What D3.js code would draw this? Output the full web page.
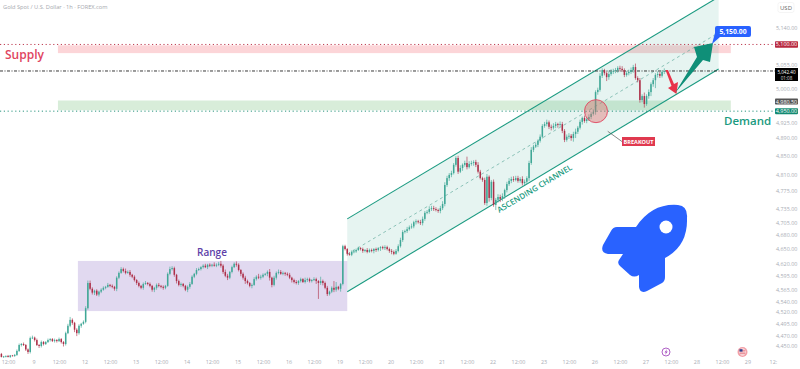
<!DOCTYPE html>
<html>
<head>
<meta charset="utf-8">
<script src="https://cdn.jsdelivr.net/npm/d3@7"></script>
<style>
	html, body { margin: 0; padding: 0; background: #fff; overflow: hidden; }
	text { font-family: "Open Sans", sans-serif; }
</style>
</head>
<body>
<div id="chart"></div>
<script>
// hourly closes, one array per stretch of the chart
const closesBefore = [4428,4429,4430,4428,4431,4430,4432,4440,4452,4454,4452,4443,4438,4466,4467,4462,4452,4450,4458,4454,
	4458,4462,4464,4460,4462,4460,4464,4458,4454,4476,4491,4503,4497,4483,4476,4491,4495,4499,4527];
const closesRange = [4579,4567,4559,4563,4555,4561,4565,4569,4571,4575,4573,4571,4567,4590,4600,4608,4604,4600,4602,4596,
	4592,4585,4579,4573,4569,4577,4579,4577,4573,4565,4569,4575,4573,4571,4569,4573,4598,4608,4610,4596,
	4583,4575,4577,4573,4565,4571,4577,4592,4598,4606,4608,4612,4615,4612,4617,4615,4617,4615,4617,4619,
	4615,4602,4594,4590,4602,4612,4619,4617,4606,4598,4590,4583,4579,4573,4575,4587,4592,4590,4592,4596,
	4598,4602,4590,4575,4590,4600,4602,4598,4600,4598,4596,4590,4585,4581,4579,4583,4587,4581,4585,4587,
	4583,4585,4587,4583,4579,4583,4579,4569,4556,4561,4569,4565,4571,4567,4577,4656];
const closesChannel = [4650,4640,4638,4644,4645,4648,4652,4650,4646,4648,4644,4648,4646,4650,4648,4652,4654,4652,4654,4650,
	4646,4644,4640,4646,4656,4669,4686,4688,4692,4696,4698,4707,4709,4707,4705,4714,4727,4729,4735,4737,
	4735,4733,4731,4737,4746,4787,4802,4809,4813,4831,4846,4816,4824,4831,4835,4826,4833,4835,4837,4831,
	4816,4802,4798,4748,4805,4759,4794,4744,4755,4761,4757,4763,4776,4789,4796,4800,4798,4802,4796,4800,
	4791,4794,4802,4835,4864,4871,4875,4884,4893,4917,4921,4925,4915,4913,4917,4921,4919,4921,4906,4886,
	4893,4895,4890,4899,4904,4913,4926,4935,4928,4932,4937,4944,4948,4993,4998,5030,5043,5036,5027,5034,
	5039,5041,5043,5048,5046,5043,5032,5036,5039,5043,5050,5025,5020,4975,4984,4966,4984,4993,5011,5020,
	5032,5034,5030,5039,5041];
const firstOpen = 4434;

// wick length above and below the body, in dollars
const wickUp = [2,1,1,2,1,1,2,3,3,2,3,2,2,3,4,2,3,2,3,2,
	2,3,2,2,3,2,3,2,2,3,4,6,3,2,3,3,2,3,4,5,
	5,3,2,3,2,3,3,2,4,2,3,2,3,3,4,3,5,3,4,2,
	3,2,3,2,3,4,2,3,2,2,3,4,2,3,2,3,5,4,3,2,
	3,3,2,2,3,4,3,2,4,3,2,3,4,2,3,2,5,3,4,6,
	3,5,4,2,3,3,5,3,2,3,4,3,2,3,4,3,6,4,3,2,
	3,6,2,4,3,5,4,3,2,3,4,2,3,4,2,3,2,5,3,3,
	2,4,3,2,9,3,3,4,2,3,14,10,2,2,3,3,2,3,3,4,
	3,3,2,3,2,4,3,3,2,3,2,2,3,4,3,3,4,3,4,4,
	5,4,3,5,4,6,3,4,3,5,5,4,4,6,5,5,4,3,5,6,
	6,5,4,5,4,4,5,6,3,5,14,6,5,4,5,6,4,3,5,6,
	3,4,5,4,6,5,6,3,5,6,5,6,5,5,4,6,5,4,5,6,
	4,5,3,5,4,5,6,4,5,6,5,3,6,5,4,5,6,4,5,7,
	4,5,3,5,4,6,5,6,4,5,6,4,3,4,8,6,5,5,4,5,
	6,4,5,5,6,5,8,4,5,4,8,4,6,4,5,4,6,5,4,6];
const wickDown = [1,2,2,1,2,1,2,2,2,3,2,3,4,3,2,3,2,4,3,3,
	2,2,3,2,3,3,2,3,5,3,2,3,4,5,6,3,4,2,3,3,
	3,4,5,3,4,3,2,3,2,3,3,4,5,3,2,3,3,2,4,3,
	3,4,3,3,4,2,3,3,4,5,4,3,3,4,3,2,3,3,4,5,
	3,4,3,3,5,4,2,3,3,2,3,3,2,4,3,3,2,3,3,4,
	4,3,5,3,3,2,4,3,5,4,6,3,3,5,2,3,3,4,3,2,
	5,6,5,3,4,3,2,3,4,3,3,5,3,3,4,3,2,3,4,3,
	3,2,6,33,4,5,3,4,3,3,5,4,3,6,3,3,4,2,3,3,
	3,2,3,4,3,3,2,3,5,4,3,6,3,4,3,4,5,3,2,3,
	3,4,3,4,3,3,4,5,3,4,5,4,3,4,4,4,3,4,5,4,
	5,4,6,5,3,4,5,3,6,4,5,3,4,6,5,4,3,4,4,6,
	8,5,4,11,6,7,5,6,5,4,5,4,3,4,4,5,4,5,6,4,
	5,3,5,4,4,4,5,5,6,4,5,6,4,5,5,4,5,6,8,9,
	5,4,6,4,5,4,5,4,6,6,4,5,5,9,6,4,5,5,6,6,
	4,5,4,5,5,6,4,5,6,5,8,4,6,9,6,18,6,5,4,5];

const priceTicks = [5140,5055,5000,4925,4890,4850,4810,4775,4735,4705,4680,4650,4620,4595,4565,4540,4520,4495,4470,4450];
const timeBars = [3,14.5,26,37.5,49,60.5,72,83.5,95,106.5,118,129.5,141,152.5,164,175.5,187,198.5,210,221.5,233,244.5,256,267.5,279,290.5,302,313.5,325,336.5,348];
const timeLabels = ["12:00","9","12:00","12","12:00","13","12:00","14","12:00","15","12:00","16","12:00","19","12:00","20","12:00","21","12:00","22","12:00","23","12:00","26","12:00","27","12:00","28","12:00","29","12:"];

const supplyPrice = 5102, demandPrice = 4950, lastPrice = 5041, prevClose = 4980.5, targetPrice = 5150;

const closes = closesBefore.concat(closesRange, closesChannel);
const candles = closes.map((c, i) => {
	const o = i ? closes[i - 1] : firstOpen;
	return { i, o, c, h: Math.max(o, c) + wickUp[i], l: Math.min(o, c) - wickDown[i] };
});

const width = 800, height = 369;
const x = d3.scaleLinear().domain([0, 300]).range([1.4, 666.5]);
const y = d3.scaleLog().domain([4450, 5000]).range([346, 89]);

const teal = "#1a9a80", red = "#e0455f", blue = "#2962ff", axisGrey = "#a9adb5";

const svg = d3.select("#chart").append("svg")
	.attr("width", width).attr("height", height)
	.style("display", "block").style("background", "#fff");

// bands behind everything
function band(x0, x1, p0, p1, fill) {
	return svg.append("rect")
		.attr("x", x(x0)).attr("width", x(x1) - x(x0))
		.attr("y", y(p0)).attr("height", y(p1) - y(p0))
		.attr("fill", fill);
}
band(25.5, 329, 5100, 5082, "#fcd5d8");
band(25.5, 329, 4974, 4952, "#d8edd9");
band(34.5, 156, 4625, 4521, "#e1d9f0");

// channel
const chLeft = 156, chRight = 323.5;
const chUpper = [4714, 5213], chMid = [4639, 5129], chLower = [4561, 5045.5];
svg.append("path")
	.attr("d", d3.line()([[x(chLeft), y(chUpper[0])], [x(chRight), y(chUpper[1])], [x(chRight), y(chLower[1])], [x(chLeft), y(chLower[0])]]))
	.attr("fill", teal).attr("fill-opacity", 0.11);
[chUpper, chLower].forEach(p => {
	svg.append("line")
		.attr("x1", x(chLeft)).attr("y1", y(p[0]))
		.attr("x2", x(chRight)).attr("y2", y(p[1]))
		.attr("stroke", teal).attr("stroke-width", 1.1);
});
svg.append("line")
	.attr("x1", x(chLeft)).attr("y1", y(chMid[0]))
	.attr("x2", x(chRight)).attr("y2", y(chMid[1]))
	.attr("stroke", "#4d9f90").attr("stroke-width", 0.6).attr("stroke-dasharray", "3 3");

// horizontal levels
const levels = [
	{ p: supplyPrice, color: "#b8283f", dash: "1.2 2.6" },
	{ p: lastPrice, color: "#222", dash: "3 1.5 1 1.5" },
	{ p: demandPrice, color: "#138a72", dash: "1.2 2.6" }
];
svg.selectAll(".level").data(levels).enter().append("line")
	.attr("class", "level")
	.attr("x1", 0).attr("x2", 775)
	.attr("y1", d => y(d.p)).attr("y2", d => y(d.p))
	.attr("stroke", d => d.color).attr("stroke-width", 0.9)
	.attr("stroke-dasharray", d => d.dash);

// candles
const candleGroup = svg.append("g");
candleGroup.selectAll(".wick").data(candles).enter().append("line")
	.attr("class", "wick")
	.attr("x1", d => x(d.i)).attr("x2", d => x(d.i))
	.attr("y1", d => y(d.h)).attr("y2", d => y(d.l))
	.attr("stroke", d => d.c >= d.o ? "#4fae9d" : "#b5445a").attr("stroke-width", 0.7);
candleGroup.selectAll(".body").data(candles).enter().append("rect")
	.attr("class", "body")
	.attr("x", d => x(d.i) - 0.75).attr("width", 1.5)
	.attr("y", d => y(Math.max(d.o, d.c)))
	.attr("height", d => Math.max(0.8, y(Math.min(d.o, d.c)) - y(Math.max(d.o, d.c))))
	.attr("fill", d => d.c >= d.o ? "#3fa796" : "#ad3049");

// breakout marker
svg.append("circle")
	.attr("cx", x(268.2)).attr("cy", y(4950)).attr("r", 11.5)
	.attr("fill", "#e06a6a").attr("fill-opacity", 0.4)
	.attr("stroke", red).attr("stroke-width", 0.9);
svg.append("line")
	.attr("x1", x(273.5)).attr("y1", y(4905))
	.attr("x2", x(280)).attr("y2", y(4882))
	.attr("stroke", "#555").attr("stroke-width", 0.7);
svg.append("rect").attr("x", 622).attr("y", 137).attr("width", 33).attr("height", 9).attr("fill", "#e0394f");
svg.append("text").attr("x", 638.5).attr("y", 143.6)
	.attr("text-anchor", "middle").attr("font-size", 5.6).attr("font-weight", 700).attr("fill", "#fff")
	.text("BREAKOUT");

// arrows and target tag
svg.append("path")
	.attr("d", "M665.5,70 L668,70 L674,84 L678,82 L676.5,94 L668,88 L671.5,86 Z")
	.attr("fill", "#e8334a");
svg.append("path")
	.attr("d", "M675,93 L697,57 L694,47 L713,43 L710,62 L703,60 Z")
	.attr("fill", "#0f8f78");
svg.append("path")
	.attr("d", "M712,44 L715,33 L715,28 Q715,26 717,26 L749,26 Q751,26 751,28 L751,35 Q751,37 749,37 L720,37 Z")
	.attr("fill", blue);
svg.append("text").attr("x", 733).attr("y", 34.2)
	.attr("text-anchor", "middle").attr("font-size", 6.8).attr("font-weight", 700).attr("fill", "#fff")
	.text(d3.format(",.2f")(targetPrice));

// rocket
svg.append("path")
	.attr("d", "M636,227 L617,227 Q613,227 611,231 L603,245 Q600,253 608,254 L623,254 L619,260 Q617,263 620,266 L630,275 Q634,278 639,275 L639,287 Q640,294 647,291 L662,283 Q665,281 665,277 L665,258 Q688,246 687,218 Q688,206 678,205 Q652,203 636,227 Z")
	.attr("fill", blue);
svg.append("circle").attr("cx", 666).attr("cy", 227).attr("r", 6.5).attr("fill", "#fff");

// words on the chart
svg.append("text").attr("x", 5).attr("y", 58.5)
	.attr("font-size", 12).attr("font-weight", 600).attr("fill", red).text("Supply");
svg.append("text").attr("x", 724).attr("y", 124.5)
	.attr("font-size", 11.5).attr("font-weight", 600).attr("fill", teal).text("Demand");
svg.append("text").attr("x", 212).attr("y", 255.5)
	.attr("text-anchor", "middle").attr("font-size", 10).attr("font-weight", 600).attr("fill", "#5e3fa8").text("Range");
svg.append("text")
	.attr("transform", "translate(536,191) rotate(-31)")
	.attr("text-anchor", "middle").attr("font-size", 8).attr("font-weight", 600).attr("fill", teal)
	.text("ASCENDING CHANNEL");
svg.append("text").attr("x", 3).attr("y", 9)
	.attr("font-size", 5.7).attr("fill", "#a5a8ae").text("Gold Spot / U.S. Dollar · 1h · FOREX.com");

// axes
const yAxis = svg.append("g")
	.attr("transform", "translate(776,0)")
	.call(d3.axisRight(y).tickValues(priceTicks).tickFormat(d3.format(",.2f")).tickSize(0).tickPadding(0));
yAxis.select(".domain").remove();
yAxis.selectAll("text").attr("font-size", 5.4).attr("fill", axisGrey).style("font-family", '"Open Sans", sans-serif');

const xAxis = svg.append("g")
	.attr("transform", "translate(0,360)")
	.call(d3.axisBottom(x).tickValues(timeBars).tickFormat((d, i) => timeLabels[i]).tickSize(0).tickPadding(0));
xAxis.select(".domain").remove();
xAxis.selectAll("text").attr("font-size", 5.4).attr("fill", axisGrey).style("font-family", '"Open Sans", sans-serif');

// price tags on the right
const tags = [
	{ label: d3.format(",.2f")(supplyPrice - 2), p: supplyPrice, fill: "#b8283f", h: 6.5, dy: 0 },
	{ label: d3.format(",.2f")(prevClose), p: prevClose, fill: "#555", h: 6, dy: 4 },
	{ label: d3.format(",.2f")(demandPrice), p: demandPrice, fill: "#138a72", h: 6, dy: 0 }
];
svg.selectAll(".tag").data(tags).enter().append("rect")
	.attr("class", "tag")
	.attr("x", 775).attr("width", 23)
	.attr("y", d => y(d.p) + d.dy - d.h / 2).attr("height", d => d.h)
	.attr("rx", 0.8).attr("fill", d => d.fill);
svg.selectAll(".tagText").data(tags).enter().append("text")
	.attr("class", "tagText")
	.attr("x", 786.5).attr("y", d => y(d.p) + d.dy + 2)
	.attr("text-anchor", "middle").attr("font-size", 5.4).attr("fill", "#fff")
	.text(d => d.label);
svg.append("rect").attr("x", 775).attr("y", 68).attr("width", 23).attr("height", 13).attr("fill", "#000");
svg.append("text").attr("x", 786.5).attr("y", 73.6)
	.attr("text-anchor", "middle").attr("font-size", 4.6).attr("fill", "#fff").text("5,042.40");
svg.append("text").attr("x", 786.5).attr("y", 79.9)
	.attr("text-anchor", "middle").attr("font-size", 4.6).attr("fill", "#ddd").text("01:08");

// currency box
svg.append("rect").attr("x", 778).attr("y", 2.5).attr("width", 16).attr("height", 10).attr("rx", 2)
	.attr("fill", "#fff").attr("stroke", "#eee").attr("stroke-width", 0.6);
svg.append("text").attr("x", 786).attr("y", 9.7).attr("text-anchor", "middle")
	.attr("font-size", 6).attr("fill", "#666").text("USD");

// event icons on the time axis
svg.append("circle").attr("cx", 666).attr("cy", 352).attr("r", 4)
	.attr("fill", "#fff").attr("stroke", "#a64fbf").attr("stroke-width", 0.9);
svg.append("path").attr("d", "M667,349 L664.5,352.6 L666,352.6 L665,355 L667.8,351.4 L666.2,351.4 Z").attr("fill", "#a64fbf");
svg.append("circle").attr("cx", 742.5).attr("cy", 352).attr("r", 5).attr("fill", "#f3a0a8");
svg.append("circle").attr("cx", 742.5).attr("cy", 352).attr("r", 3.4).attr("fill", "#fff");
[-1.8, 0, 1.8].forEach(d => {
	svg.append("line").attr("x1", 739.5).attr("x2", 745.5).attr("y1", 352 + d).attr("y2", 352 + d)
		.attr("stroke", "#d9414f").attr("stroke-width", 0.8);
});
svg.append("rect").attr("x", 739.5).attr("y", 349.2).attr("width", 3).attr("height", 2.4).attr("fill", "#2a3f8f");
</script>
</body>
</html>
